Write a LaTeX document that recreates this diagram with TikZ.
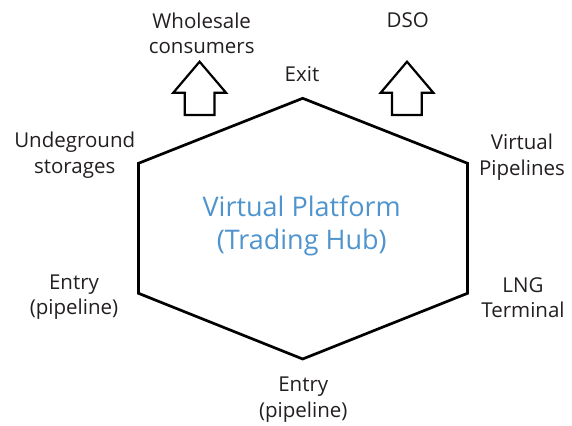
\documentclass[tikz,border=0pt]{standalone}
\usepackage{fontspec}
\setmainfont{Open Sans}
\definecolor{hubblue}{RGB}{79,148,205}
\definecolor{inkc}{RGB}{35,31,32}
\begin{document}
\begin{tikzpicture}[x=1pt,y=-1pt,
  lbl/.style={align=center, text=inkc, inner sep=0pt, font=\fontsize{20.5}{25.5}\selectfont},
  hub/.style={align=center, text=hubblue, inner sep=0pt, font=\fontsize{27}{33}\selectfont},
  hexa/.style={draw=black, line width=2.7pt, line join=miter},
  blockarrow/.style={draw=black, line width=2.2pt, fill=white, line join=miter}]
\useasboundingbox (0,0) rectangle (572,425);
% hexagon corners
\coordinate (T) at (302.7,98.3);
\coordinate (UL) at (138.5,163.3);
\coordinate (LL) at (138.5,293.3);
\coordinate (B) at (302.7,359);
\coordinate (LR) at (467.5,293.3);
\coordinate (UR) at (467.5,163.3);
\draw[hexa] (T) -- (UL) -- (LL) -- (B) -- (LR) -- (UR) -- cycle;
% block arrows
\draw[blockarrow] (199.6,61.7) -- (226,92.7) -- (214.4,92.7) -- (214.4,115) -- (184.8,115) -- (184.8,92.7) -- (173.3,92.7) -- cycle;
\draw[blockarrow] (407,61.7) -- (433.3,92.7) -- (421.8,92.7) -- (421.8,115) -- (392,115) -- (392,92.7) -- (380.7,92.7) -- cycle;
% labels
\node[lbl] (wholesale) at (201.7,33.5) {Wholesale\\consumers};
\node[lbl, anchor=base] (dso) at (407.8,27.3) {DSO};
\node[lbl, anchor=base] (exit) at (302,81.7) {Exit};
\node[lbl] (storage) at (74.7,155) {Undeground\\storages};
\node[lbl] (vpipe) at (522,157) {Virtual\\Pipelines};
\node[lbl] (entryl) at (74,297) {Entry\\(pipeline)};
\node[lbl] (lng) at (523,297.5) {LNG\\Terminal};
\node[lbl] (entryb) at (303.3,399.5) {Entry\\(pipeline)};
\node[hub] (hubtxt) at (301.7,225.7) {Virtual Platform\\(Trading Hub)};
\end{tikzpicture}
\end{document}
